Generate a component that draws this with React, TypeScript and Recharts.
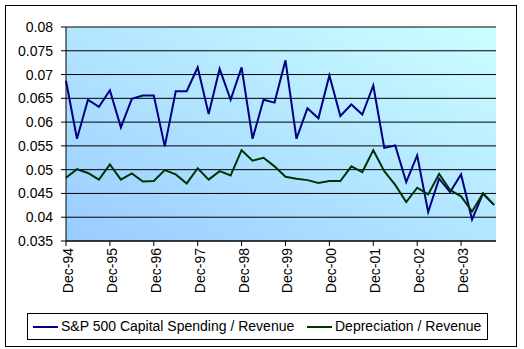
import React from "react";
import { LineChart, Line, XAxis, YAxis, CartesianGrid, Legend } from "recharts";

const categories = [
  "Dec-94", "Mar-95", "Jun-95", "Sep-95",
  "Dec-95", "Mar-96", "Jun-96", "Sep-96",
  "Dec-96", "Mar-97", "Jun-97", "Sep-97",
  "Dec-97", "Mar-98", "Jun-98", "Sep-98",
  "Dec-98", "Mar-99", "Jun-99", "Sep-99",
  "Dec-99", "Mar-00", "Jun-00", "Sep-00",
  "Dec-00", "Mar-01", "Jun-01", "Sep-01",
  "Dec-01", "Mar-02", "Jun-02", "Sep-02",
  "Dec-02", "Mar-03", "Jun-03", "Sep-03",
  "Dec-03", "Mar-04", "Jun-04", "Sep-04",
];

const capexRevenue = [
  0.0687, 0.0565, 0.0647, 0.0632,
  0.0667, 0.0589, 0.0649, 0.0656,
  0.0656, 0.0549, 0.0665, 0.0665,
  0.0715, 0.0617, 0.0712, 0.0647,
  0.0715, 0.0565, 0.0647, 0.0641,
  0.0730, 0.0565, 0.0629, 0.0608,
  0.0698, 0.0613, 0.0637, 0.0616,
  0.0677, 0.0546, 0.0551, 0.0474,
  0.0530, 0.0411, 0.0481, 0.0453,
  0.0490, 0.0395, 0.0450, 0.0426,
];

const depreciationRevenue = [
  0.0483, 0.0501, 0.0493, 0.0479,
  0.0511, 0.0479, 0.0492, 0.0475,
  0.0476, 0.0499, 0.0490, 0.0471,
  0.0503, 0.0479, 0.0497, 0.0488,
  0.0541, 0.0519, 0.0525, 0.0507,
  0.0485, 0.0481, 0.0478, 0.0472,
  0.0476, 0.0476, 0.0507, 0.0495,
  0.0541, 0.0497, 0.0468, 0.0432,
  0.0462, 0.0448, 0.0491, 0.0457,
  0.0444, 0.0412, 0.0450, 0.0426,
];

const yTicks = [0.035, 0.04, 0.045, 0.05, 0.055, 0.06, 0.065, 0.07, 0.075, 0.08];

const seriesNames = ["S&P 500 Capital Spending / Revenue", "Depreciation / Revenue"];
const seriesColors = ["#000080", "#003300"];

const data = categories.map((c, i) => ({
  date: c,
  capex: capexRevenue[i],
  dep: depreciationRevenue[i],
}));

const FONT = "'Liberation Sans', Arial, sans-serif";

const XTick = (props: any) => {
  const { x, y, payload } = props;
  return (
    <text
      x={0}
      y={0}
      transform={`translate(${x},${y}) rotate(-90)`}
      textAnchor="end"
      dy="0.5em"
      fontSize={14}
      fontFamily={FONT}
      fill="#000"
    >
      {payload.value}
    </text>
  );
};

const LegendBox = () => (
  <div
    style={{
      position: "relative",
      width: 461,
      height: 27,
      boxSizing: "border-box",
      border: "1px solid #000",
      background: "#fff",
      fontFamily: FONT,
      fontSize: 14,
      color: "#000",
    }}
  >
    {[0, 1].map((i) => {
      const lineLeft = i === 0 ? 5 : 279;
      return (
        <React.Fragment key={i}>
          <div
            style={{
              position: "absolute",
              left: lineLeft,
              top: 12,
              width: 25,
              height: 2,
              background: seriesColors[i],
            }}
          />
          <span
            style={{
              position: "absolute",
              left: lineLeft + 28,
              top: 4,
              lineHeight: "17px",
              whiteSpace: "nowrap",
            }}
          >
            {seriesNames[i]}
          </span>
        </React.Fragment>
      );
    })}
  </div>
);

export default function App() {
  return (
    <div style={{ position: "absolute", left: 0, top: 0, width: 524, height: 349, background: "#fff" }}>
      <div
        style={{
          position: "absolute",
          left: 5,
          top: 5,
          width: 512,
          height: 342,
          boxSizing: "border-box",
          border: "1px solid #000",
        }}
      />
      <LineChart
        width={524}
        height={349}
        data={data}
        margin={{ top: 27, right: 28, left: 0, bottom: 41 }}
        style={{ position: "absolute", left: 0, top: 0 }}
      >
        <defs>
          <linearGradient id="plotBg" x1="0" y1="1" x2="1" y2="0">
            <stop offset="0%" stopColor="#99CCFF" />
            <stop offset="100%" stopColor="#CCFFFF" />
          </linearGradient>
        </defs>
        <CartesianGrid
          vertical={false}
          stroke="#000"
          strokeOpacity={1}
          fill="url(#plotBg)"
          fillOpacity={1}
        />
        <XAxis
          dataKey="date"
          interval={3}
          height={40}
          tickSize={5}
          tickMargin={2}
          tick={<XTick />}
          padding={{ left: 0, right: 2 }}
          axisLine={{ stroke: "#000" }}
          tickLine={{ stroke: "#000" }}
        />
        <XAxis
          xAxisId="top"
          dataKey="date"
          orientation="top"
          height={0}
          tick={false}
          tickLine={false}
          axisLine={{ stroke: "#808080" }}
        />
        <YAxis
          domain={[0.035, 0.08]}
          ticks={yTicks}
          width={66}
          tickSize={5}
          tickMargin={8}
          interval={0}
          tickFormatter={(v: number) => String(v)}
          tick={{ fontSize: 14, fontFamily: FONT, fill: "#000" }}
          axisLine={{ stroke: "#000" }}
          tickLine={{ stroke: "#000" }}
        />
        <YAxis
          yAxisId="right"
          orientation="right"
          domain={[0.035, 0.08]}
          width={0}
          tick={false}
          tickLine={false}
          axisLine={{ stroke: "#808080" }}
        />
        <Legend
          verticalAlign="bottom"
          content={<LegendBox />}
          wrapperStyle={{ left: 27, top: 313, bottom: "auto", width: 461 }}
        />
        <Line
          type="linear"
          dataKey="capex"
          name={seriesNames[0]}
          stroke={seriesColors[0]}
          strokeWidth={2}
          dot={false}
          isAnimationActive={false}
        />
        <Line
          type="linear"
          dataKey="dep"
          name={seriesNames[1]}
          stroke={seriesColors[1]}
          strokeWidth={2}
          dot={false}
          isAnimationActive={false}
        />
      </LineChart>
    </div>
  );
}
